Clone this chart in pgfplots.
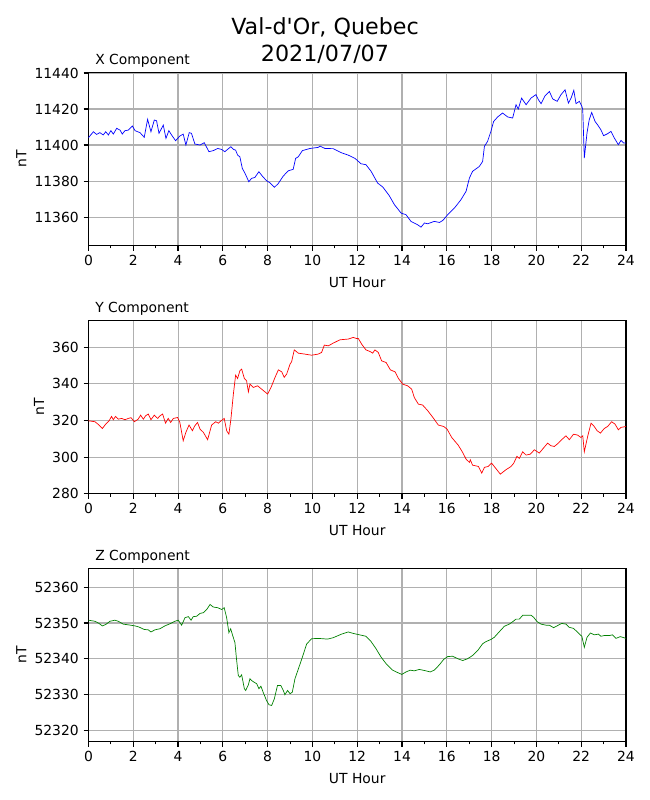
\documentclass[border=0pt]{standalone}
\usepackage{fontspec}
\setmainfont{DejaVu Sans}[Ligatures=TeXOff]
\usepackage{pgfplots}
\pgfplotsset{compat=1.18}
\definecolor{gridgray}{HTML}{B0B0B0}
\definecolor{mplgreen}{rgb}{0,0.5,0}
\pgfplotsset{
  magstyle/.style={
    scale only axis,
    width=387pt, height=124.7pt,
    anchor=south west,
    xmin=0, xmax=24,
    xtick={0,2,...,24},
    minor xtick={1,3,...,23},
    grid=major,
    major grid style={color=gridgray, line width=0.8pt},
    axis line style={line width=0.8pt},
    tick align=outside,
    tick pos=left,
    major tick length=3.5pt,
    minor tick length=2pt,
    every tick/.style={black, line width=0.8pt},
    minor tick style={line width=0.6pt},
    tick label style={font=\fontsize{10}{12}\selectfont},
    label style={font=\fontsize{10}{12}\selectfont},
    xlabel style={yshift=-1.2pt},
    ylabel style={yshift=-1pt},
    /pgf/number format/assume math mode=true,
    /pgf/number format/1000 sep={},
    scaled ticks=false,
    xlabel={UT Hour},
    ylabel={nT},
    clip mode=individual,
  }
}
\begin{document}
\begin{tikzpicture}
\path[use as bounding box] (0,0) rectangle (468pt,576pt);
\node[anchor=base, font=\fontsize{16}{19}\selectfont] at (234pt,551.5pt) {Val-d'Or, Quebec};
\node[anchor=base, font=\fontsize{16}{19}\selectfont] at (234pt,531.6pt) {2021/07/07};

% X component
\begin{axis}[magstyle, at={(63.7pt,399.1pt)},
  ymin=11344.1, ymax=11440.3,
  ytick={11360,11380,11400,11420,11440}]
\addplot[blue, line width=0.5pt] coordinates {
(0,11404.1)(0.22,11407.4)(0.36,11405.9)(0.51,11406.9)(0.66,11405.6)(0.77,11407.4)(0.89,11405.6)(1.0,11408)(1.11,11406.1)(1.26,11409.3)(1.41,11408.3)(1.51,11406.1)(1.63,11408)(1.78,11408.3)(1.96,11410.6)(2.08,11408)(2.3,11406.9)(2.49,11404.3)(2.64,11414.3)(2.79,11407.4)(2.94,11413.9)(3.04,11413.5)(3.15,11406.5)(3.34,11411.1)(3.46,11403.7)(3.59,11408)(3.71,11405.6)(3.89,11402.4)(4.08,11405)(4.23,11406.1)(4.35,11400)(4.5,11406.9)(4.6,11406.5)(4.75,11400.6)(4.98,11400)(5.17,11401.3)(5.38,11396.3)(5.57,11396.9)(5.77,11398.1)(5.94,11397.6)(6.09,11396.3)(6.21,11397.6)(6.36,11399.1)(6.47,11397.6)(6.57,11397.2)(6.66,11394.4)(6.76,11393.5)(6.87,11387)(6.99,11384.3)(7.16,11379.6)(7.28,11381.5)(7.43,11382)(7.61,11385.2)(7.76,11382.8)(7.95,11380.2)(8.1,11379.1)(8.3,11376.5)(8.48,11378.7)(8.7,11382.8)(8.92,11385.7)(9.14,11386.5)(9.25,11392.6)(9.37,11393.5)(9.55,11396.9)(9.89,11398.1)(10.26,11398.7)(10.34,11399.4)(10.56,11398.1)(10.93,11398)(11.3,11395.7)(11.6,11394.4)(11.9,11392.6)(12.17,11389.6)(12.39,11389.1)(12.62,11385.4)(12.91,11378.9)(13.14,11376.7)(13.43,11371.9)(13.66,11366.9)(13.96,11362.2)(14.18,11361.3)(14.4,11357.6)(14.7,11355.7)(14.85,11354.4)(15.0,11356.7)(15.15,11356.3)(15.44,11357.6)(15.67,11357)(15.82,11358.1)(16.04,11361.3)(16.34,11365)(16.63,11369.6)(16.86,11374.3)(17.01,11381.7)(17.15,11385.4)(17.45,11388.1)(17.6,11390.9)(17.68,11399.3)(17.82,11402)(17.97,11407.6)(18.09,11413.1)(18.27,11415.6)(18.49,11417.8)(18.72,11415.6)(18.94,11415)(19.09,11422.4)(19.19,11420)(19.34,11426.1)(19.54,11422.4)(19.76,11426.1)(19.98,11428)(20.09,11425.2)(20.21,11423)(20.39,11427.4)(20.58,11429.8)(20.73,11425.6)(20.93,11424.3)(21.1,11428)(21.28,11430.7)(21.43,11423.3)(21.55,11426.1)(21.67,11430.4)(21.77,11423)(21.92,11424.3)(22.03,11421.5)(22.07,11419.6)(22.14,11392.8)(22.26,11406.7)(22.36,11414.1)(22.47,11418.1)(22.62,11413.1)(22.73,11411.3)(22.88,11408.5)(23.0,11405.2)(23.18,11406.3)(23.33,11407.6)(23.48,11403.9)(23.66,11400.2)(23.78,11402.6)(23.9,11401.1)(24,11401.1)
};
\node[anchor=base west, inner sep=0pt, font=\fontsize{10}{12}\selectfont] at (rel axis cs:0,1) [xshift=4.7pt, yshift=5.9pt] {X Component};
\end{axis}

% Y component
\begin{axis}[magstyle, at={(63.7pt,220.5pt)},
  ymin=280, ymax=374.5,
  ytick={280,300,320,340,360}]
\addplot[red, line width=0.5pt] coordinates {
(0,319.8)(0.29,319.3)(0.47,317.5)(0.62,315.6)(0.77,318)(0.92,319.8)(1.03,322.2)(1.11,320.4)(1.21,322.2)(1.33,320.7)(1.48,321.1)(1.63,320.4)(1.78,321.1)(1.9,321.5)(2.05,319.3)(2.22,320.7)(2.33,322.9)(2.45,320.7)(2.55,322.5)(2.67,323.5)(2.79,320.4)(2.94,322.9)(3.09,321.1)(3.19,322.5)(3.31,323.5)(3.44,318.5)(3.56,321.1)(3.67,318.9)(3.79,321.1)(3.98,321.6)(4.08,318.9)(4.23,308.9)(4.35,313.5)(4.49,317.5)(4.64,314.4)(4.75,317.1)(4.87,318.9)(4.98,315.3)(5.13,313.5)(5.32,309.5)(5.5,317.5)(5.68,319.3)(5.8,318.5)(5.92,319.8)(6.06,321.1)(6.17,314.4)(6.27,312.5)(6.36,320.7)(6.47,334.4)(6.57,344.7)(6.66,342.9)(6.76,347.1)(6.84,348)(6.96,342.9)(7.06,341.6)(7.14,335.6)(7.21,339.8)(7.36,338)(7.55,338.9)(7.73,337.1)(7.88,335.6)(8.0,334.4)(8.15,338)(8.33,343.5)(8.48,347.6)(8.63,346.5)(8.74,343.5)(8.85,345.3)(9.0,350.7)(9.07,352)(9.19,358.5)(9.37,356.7)(9.66,356.2)(9.96,355.6)(10.26,356.2)(10.41,357.1)(10.53,361.1)(10.71,360.7)(10.93,362.2)(11.23,364)(11.6,364.4)(11.82,365.3)(11.97,364.7)(12.05,364.7)(12.2,361.6)(12.39,358.5)(12.59,357.5)(12.69,356.7)(12.79,358.5)(12.94,357.1)(13.09,352.5)(13.29,351.6)(13.48,347.6)(13.69,346.5)(13.84,342.9)(14.03,339.8)(14.25,338.9)(14.43,337.1)(14.55,332.5)(14.73,328.9)(14.92,328.4)(15.15,325.3)(15.41,321.1)(15.62,317.5)(15.86,316.7)(16.01,315.3)(16.22,310.7)(16.51,306.5)(16.71,302.5)(16.86,298.9)(17.01,297.1)(17.05,298.5)(17.15,295.6)(17.41,294.9)(17.56,291.3)(17.68,294.4)(17.85,294.9)(18.0,296.7)(18.15,294.4)(18.39,290.7)(18.64,293.1)(18.87,294.9)(18.99,296.7)(19.13,300.4)(19.24,299.3)(19.39,302.9)(19.54,301.1)(19.73,301.6)(19.91,304)(20.13,302.2)(20.28,304.4)(20.5,307.6)(20.65,306.2)(20.8,305.8)(20.98,307.6)(21.13,309.5)(21.32,311.6)(21.47,309.5)(21.66,312.5)(21.84,312)(21.99,310.7)(22.07,311.6)(22.14,302.9)(22.29,311.3)(22.44,318.5)(22.56,317.1)(22.71,314.4)(22.86,313.1)(23.03,315.6)(23.18,316.7)(23.36,319.3)(23.51,318)(23.66,314.9)(23.78,316.2)(24,316.7)
};
\node[anchor=base west, inner sep=0pt, font=\fontsize{10}{12}\selectfont] at (rel axis cs:0,1) [xshift=4.7pt, yshift=5.9pt] {Y Component};
\end{axis}

% Z component
\begin{axis}[magstyle, at={(63.7pt,42.0pt)},
  ymin=52316.75, ymax=52365.3,
  ytick={52320,52330,52340,52350,52360}]
\addplot[mplgreen, line width=0.5pt] coordinates {
(0,52350.8)(0.29,52350.5)(0.47,52349.9)(0.62,52349.2)(0.77,52349.6)(0.96,52350.5)(1.18,52350.8)(1.33,52350.5)(1.55,52349.7)(1.78,52349.5)(2.08,52349.2)(2.25,52348.9)(2.49,52348.2)(2.67,52348.1)(2.79,52347.5)(2.97,52348.1)(3.19,52348.4)(3.41,52349.2)(3.64,52349.8)(3.86,52350.5)(4.01,52350.8)(4.16,52349.4)(4.31,52351.5)(4.46,52351.8)(4.58,52350.8)(4.68,52351.8)(4.83,52351.9)(4.98,52352.7)(5.13,52352.9)(5.28,52353.8)(5.43,52355.2)(5.57,52354.5)(5.77,52354.3)(5.95,52353.8)(6.06,52354.3)(6.17,52351.5)(6.27,52347.3)(6.35,52348.4)(6.42,52346.9)(6.54,52344.5)(6.61,52339.9)(6.69,52335.3)(6.76,52334.8)(6.84,52335.5)(6.96,52331.6)(7.02,52331.1)(7.14,52332.7)(7.21,52334.4)(7.28,52333.9)(7.4,52333.4)(7.51,52333)(7.61,52331.6)(7.7,52332.3)(7.8,52330.6)(7.95,52328.3)(8.06,52327.1)(8.18,52326.9)(8.3,52328.8)(8.44,52332.5)(8.59,52332.5)(8.7,52331.1)(8.77,52329.9)(8.89,52331.1)(9.0,52330.2)(9.1,52330.6)(9.22,52334.4)(9.37,52337.1)(9.55,52340.4)(9.74,52344.1)(9.96,52345.6)(10.26,52345.7)(10.68,52345.5)(10.93,52345.9)(11.3,52346.9)(11.6,52347.5)(11.82,52347.1)(12.1,52346.7)(12.39,52346.3)(12.62,52344.8)(12.84,52342.8)(13.06,52340.5)(13.29,52338.6)(13.58,52336.8)(13.81,52336.1)(13.99,52335.6)(14.18,52336.3)(14.37,52336.8)(14.55,52336.6)(14.77,52337)(15.0,52336.7)(15.26,52336.3)(15.44,52336.8)(15.67,52338.3)(15.86,52339.8)(16.04,52340.6)(16.26,52340.7)(16.49,52340)(16.71,52339.5)(16.93,52340)(17.15,52340.9)(17.38,52342.3)(17.6,52344.2)(17.75,52344.8)(17.97,52345.4)(18.12,52346)(18.35,52347.6)(18.57,52349.1)(18.79,52349.7)(18.99,52350.6)(19.09,52351.1)(19.24,52351.1)(19.39,52352.2)(19.61,52352.2)(19.76,52352.2)(19.88,52351.6)(20.03,52350.4)(20.21,52349.7)(20.43,52349.4)(20.58,52349.4)(20.77,52348.7)(20.95,52349.3)(21.13,52349.9)(21.32,52349.7)(21.47,52348.8)(21.66,52348.5)(21.81,52347.6)(21.92,52346.9)(22.03,52346.3)(22.14,52343.2)(22.26,52346)(22.41,52347.2)(22.59,52346.7)(22.77,52346.9)(22.88,52346.3)(23.03,52346.5)(23.26,52346.5)(23.4,52346.7)(23.55,52345.7)(23.75,52346.2)(24,52345.7)
};
\node[anchor=base west, inner sep=0pt, font=\fontsize{10}{12}\selectfont] at (rel axis cs:0,1) [xshift=4.7pt, yshift=5.9pt] {Z Component};
\end{axis}
\end{tikzpicture}
\end{document}
